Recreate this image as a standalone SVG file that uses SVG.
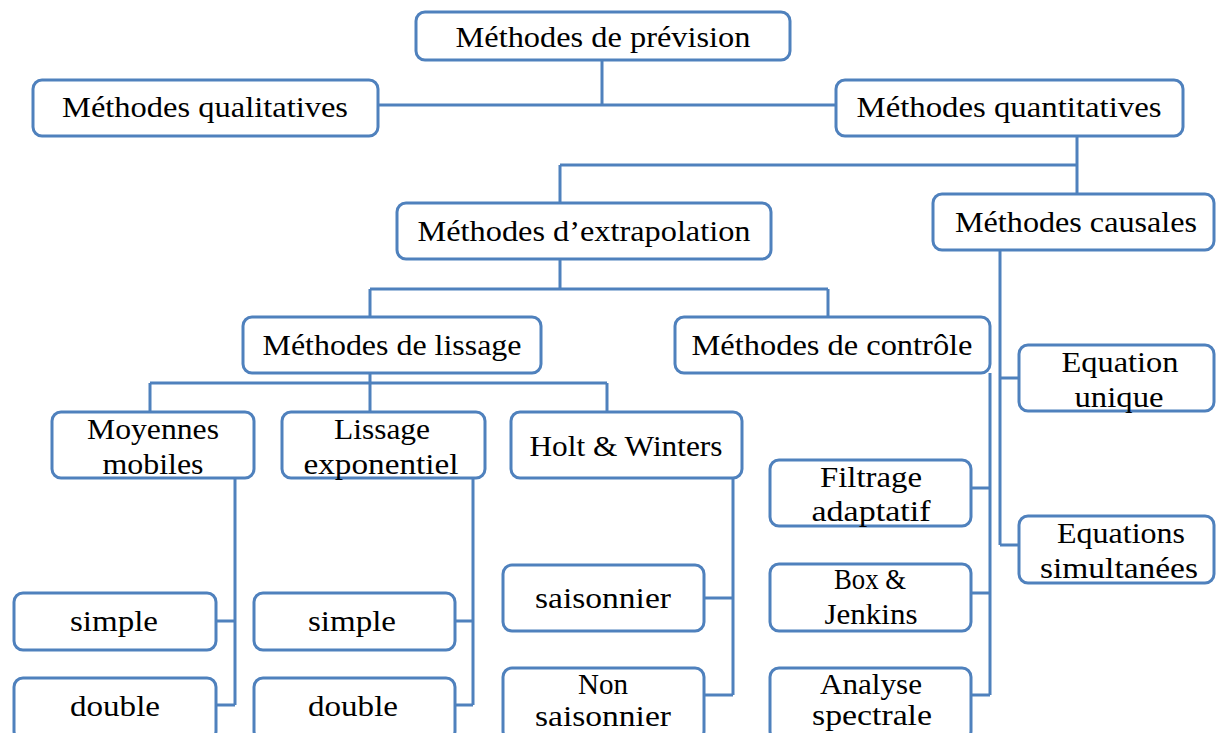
<svg xmlns="http://www.w3.org/2000/svg" width="1216" height="733" viewBox="0 0 1216 733">
<style>
.b{fill:#fff;stroke:#4F81BD;stroke-width:3}
.c path{fill:none;stroke:#4F81BD;stroke-width:3}
text{font-family:"Liberation Serif","Times New Roman",serif;font-size:30px;fill:#000;text-anchor:middle}
</style>
<rect width="1216" height="733" fill="#fff"/>
<g class="c" id="connectors">
<path d="M602,60V105M378,105H836"/>
<path d="M1077,136V194M560,165H1077M560,165V203"/>
<path d="M560,259V289M370,289H828M370,289V317M828,289V317"/>
<path d="M370,373V383M150,383H607M150,383V412M370,383V412M607,383V412"/>
<path d="M235,478V705M216,621H235M216,705H235"/>
<path d="M473,478V705M455,621H473M455,705H473"/>
<path d="M733,478V695M704,598H733M704,695H733"/>
<path d="M990,373V695M971,488H990M971,593H990M971,695H990"/>
<path d="M1000,250V545M1000,378H1019M1000,545H1019"/>
</g>
<g id="prevision"><rect class="b" x="416" y="12" width="374" height="48" rx="9"/><text x="603" y="47" textLength="295" lengthAdjust="spacingAndGlyphs">Méthodes de prévision</text></g>
<g id="qualitatives"><rect class="b" x="33" y="80" width="345" height="56" rx="9"/><text x="205" y="117" textLength="286" lengthAdjust="spacingAndGlyphs">Méthodes qualitatives</text></g>
<g id="quantitatives"><rect class="b" x="836" y="80" width="347" height="56" rx="9"/><text x="1009" y="117" textLength="305" lengthAdjust="spacingAndGlyphs">Méthodes quantitatives</text></g>
<g id="extrapolation"><rect class="b" x="397" y="203" width="374" height="56" rx="9"/><text x="584" y="241" textLength="333" lengthAdjust="spacingAndGlyphs">Méthodes d’extrapolation</text></g>
<g id="causales"><rect class="b" x="933" y="194" width="281" height="56" rx="9"/><text x="1076" y="232" textLength="242" lengthAdjust="spacingAndGlyphs">Méthodes causales</text></g>
<g id="lissage"><rect class="b" x="243" y="317" width="298" height="56" rx="9"/><text x="392" y="355" textLength="259" lengthAdjust="spacingAndGlyphs">Méthodes de lissage</text></g>
<g id="controle"><rect class="b" x="675" y="317" width="315" height="56" rx="9"/><text x="832" y="355" textLength="281" lengthAdjust="spacingAndGlyphs">Méthodes de contrôle</text></g>
<g id="moyennes"><rect class="b" x="52" y="412" width="202" height="66" rx="9"/><text x="153" y="439" textLength="132" lengthAdjust="spacingAndGlyphs">Moyennes</text><text x="153" y="474" textLength="101" lengthAdjust="spacingAndGlyphs">mobiles</text></g>
<g id="lissexp"><rect class="b" x="282" y="412" width="203" height="66" rx="9"/><text x="382" y="439" textLength="96" lengthAdjust="spacingAndGlyphs">Lissage</text><text x="381" y="474" textLength="155" lengthAdjust="spacingAndGlyphs">exponentiel</text></g>
<g id="holt"><rect class="b" x="511" y="412" width="231" height="66" rx="9"/><text x="626" y="456" textLength="193" lengthAdjust="spacingAndGlyphs">Holt &amp; Winters</text></g>
<g id="simple1"><rect class="b" x="14" y="593" width="202" height="57" rx="9"/><text x="114" y="631" textLength="88" lengthAdjust="spacingAndGlyphs">simple</text></g>
<g id="double1"><rect class="b" x="14" y="678" width="202" height="62" rx="9"/><text x="115" y="716" textLength="90" lengthAdjust="spacingAndGlyphs">double</text></g>
<g id="simple2"><rect class="b" x="254" y="593" width="201" height="57" rx="9"/><text x="352" y="631" textLength="88" lengthAdjust="spacingAndGlyphs">simple</text></g>
<g id="double2"><rect class="b" x="254" y="678" width="201" height="62" rx="9"/><text x="353" y="716" textLength="90" lengthAdjust="spacingAndGlyphs">double</text></g>
<g id="saisonnier"><rect class="b" x="503" y="565" width="201" height="66" rx="9"/><text x="603" y="608" textLength="136" lengthAdjust="spacingAndGlyphs">saisonnier</text></g>
<g id="nonsaisonnier"><rect class="b" x="503" y="668" width="201" height="72" rx="9"/><text x="603" y="694" textLength="50" lengthAdjust="spacingAndGlyphs">Non</text><text x="603" y="726" textLength="136" lengthAdjust="spacingAndGlyphs">saisonnier</text></g>
<g id="filtrage"><rect class="b" x="770" y="460" width="201" height="66" rx="9"/><text x="871" y="487" textLength="102" lengthAdjust="spacingAndGlyphs">Filtrage</text><text x="871" y="521" textLength="119" lengthAdjust="spacingAndGlyphs">adaptatif</text></g>
<g id="boxjenkins"><rect class="b" x="770" y="564" width="201" height="67" rx="9"/><text x="870" y="589" textLength="72" lengthAdjust="spacingAndGlyphs">Box &amp;</text><text x="871" y="624" textLength="93" lengthAdjust="spacingAndGlyphs">Jenkins</text></g>
<g id="analyse"><rect class="b" x="770" y="668" width="201" height="72" rx="9"/><text x="871" y="694" textLength="102" lengthAdjust="spacingAndGlyphs">Analyse</text><text x="872" y="725" textLength="120" lengthAdjust="spacingAndGlyphs">spectrale</text></g>
<g id="equationunique"><rect class="b" x="1019" y="345" width="195" height="66" rx="9"/><text x="1120" y="372" textLength="117" lengthAdjust="spacingAndGlyphs">Equation</text><text x="1119" y="407" textLength="89" lengthAdjust="spacingAndGlyphs">unique</text></g>
<g id="equationssimultanees"><rect class="b" x="1019" y="516" width="195" height="67" rx="9"/><text x="1121" y="543" textLength="128" lengthAdjust="spacingAndGlyphs">Equations</text><text x="1119" y="578" textLength="158" lengthAdjust="spacingAndGlyphs">simultanées</text></g>
</svg>
